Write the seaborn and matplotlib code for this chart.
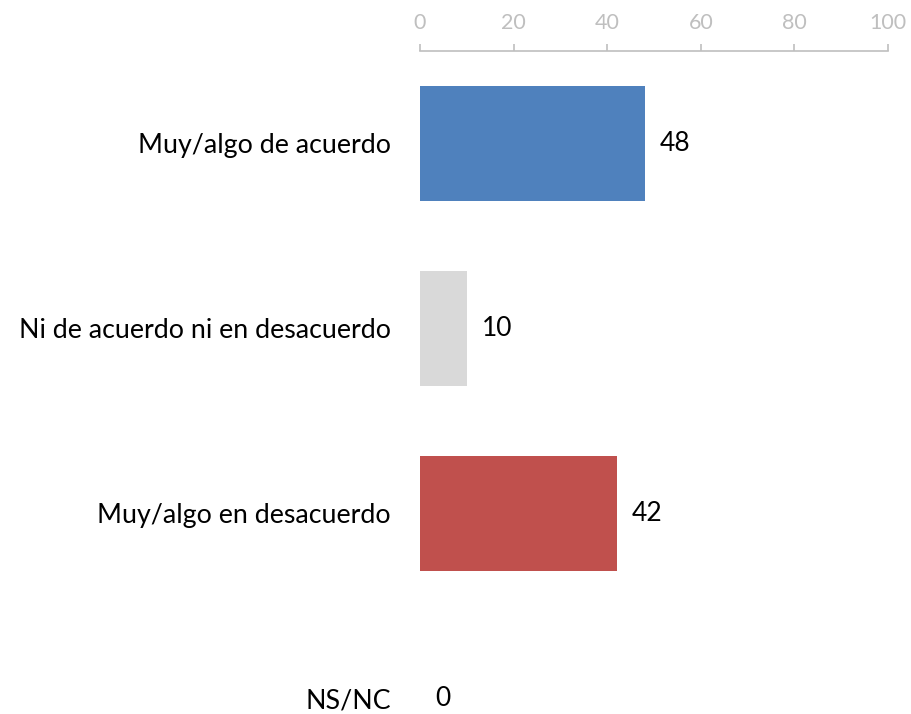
import matplotlib
matplotlib.use("Agg")
import matplotlib.pyplot as plt
import seaborn as sns
import pandas as pd

categorias = ["Muy/algo de acuerdo", "Ni de acuerdo ni en desacuerdo",
              "Muy/algo en desacuerdo", "NS/NC"]
valores = [48, 10, 42, 0]
colores = ["#4F81BD", "#D9D9D9", "#C0504D", "#8064A2"]
ticks_x = [0, 20, 40, 60, 80, 100]

sns.set_theme(style="white")
plt.rcParams['font.family'] = ['Lato', 'DejaVu Sans']

df = pd.DataFrame({"categoria": categorias, "valor": valores})

fig = plt.figure(figsize=(9.11, 7.14), dpi=100)
ax = fig.add_axes([420 / 911, 0, (888 - 420) / 911, 1 - 51 / 714])

sns.barplot(data=df, x="valor", y="categoria", hue="categoria",
            palette=colores, saturation=1, orient="h", width=0.62,
            legend=False, linewidth=0, ax=ax)

for cont in ax.containers:
    ax.bar_label(cont, padding=11, fontsize=19, color="#000000")

ax.set_xlim(0, 100)
ax.set_ylim(-0.5 + (714 - 51) / 185, -0.5)
ax.set_xticks(ticks_x)
ax.xaxis.tick_top()
ax.tick_params(axis="x", which="both", top=True, bottom=False, direction="out",
               length=5, width=1.2, color="#BFBFBF", labelcolor="#BFBFBF",
               labelsize=15.5, pad=8)
ax.tick_params(axis="y", left=False, labelsize=19.3, pad=15, labelcolor="#000000")
ax.set_xlabel("")
ax.set_ylabel("")

for s in ["left", "right", "bottom"]:
    ax.spines[s].set_visible(False)
ax.spines["top"].set_color("#BFBFBF")
ax.spines["top"].set_linewidth(1.2)

fig.savefig("out.png", dpi=100)
